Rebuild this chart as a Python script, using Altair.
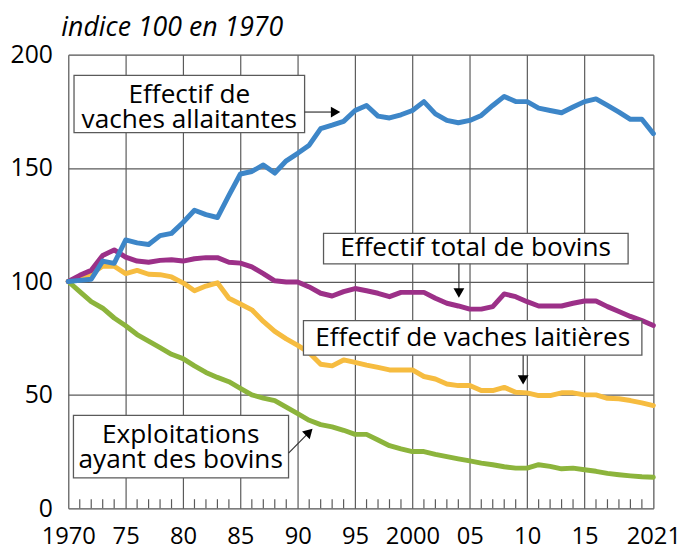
import altair as alt
import pandas as pd

years = list(range(1970, 2022))
allaitantes = [100, 100.5, 101, 109, 108, 118.3, 117, 116.3, 120.2, 121.2,
               126, 131.4, 129.5, 128.2, 138, 147.4, 148.5, 151.4, 147.8, 153.2,
               156.5, 160.1, 167.4, 168.9, 170.6, 175.4, 177.6, 172.9, 172.1, 173.5,
               175.4, 179.3, 173.9, 171.0, 170.0, 171.0, 173.2, 177.6, 181.6, 179.3,
               179.3, 176.4, 175.4, 174.4, 176.9, 179.3, 180.5, 177.6, 174.7, 171.5,
               171.5, 165.2]
total_bovins = [100, 102.7, 104.9, 111.5, 113.9, 110.7, 109.0, 108.5, 109.3, 109.6,
                109.0, 110.0, 110.5, 110.5, 108.5, 108.1, 106.4, 103.5, 100.3, 99.8,
                99.8, 97.6, 94.8, 93.6, 95.5, 96.9, 95.9, 94.8, 93.3, 95.2,
                95.2, 95.2, 92.6, 90.4, 89.2, 87.8, 87.8, 88.9, 94.5, 93.3,
                91.1, 89.2, 89.2, 89.2, 90.4, 91.4, 91.4, 88.9, 86.8, 84.6,
                82.8, 80.6]
laitieres = [100, 101.3, 103.5, 106.7, 106.7, 103.5, 104.9, 103.2, 103.0, 102.0,
             99.4, 95.9, 98.0, 99.4, 92.6, 90.1, 87.5, 82.4, 78.0, 74.7,
             71.8, 68.6, 63.5, 62.8, 65.4, 64.3, 63.1, 62.1, 61.0, 61.0,
             61.0, 58.1, 57.0, 54.8, 54.1, 54.1, 51.9, 51.9, 53.3, 51.2,
             50.9, 49.7, 49.7, 50.9, 50.9, 50.0, 50.0, 48.5, 48.3, 47.5,
             46.5, 45.3]
exploitations = [100, 95.5, 91.1, 88.2, 83.9, 80.5, 76.6, 73.7, 70.8, 67.9,
                 66.0, 62.8, 59.9, 57.7, 55.8, 52.9, 50.0, 48.6, 47.5, 44.6,
                 41.7, 38.8, 36.9, 35.9, 34.4, 32.6, 32.6, 30.1, 27.6, 26.2,
                 25.0, 25.0, 23.8, 22.8, 21.8, 20.9, 19.9, 19.2, 18.3, 17.7,
                 17.7, 19.2, 18.5, 17.4, 17.7, 17.0, 16.3, 15.4, 14.8, 14.3,
                 13.9, 13.7]

series_names = ["exploitations", "laitieres", "total", "allaitantes"]
series_values = [exploitations, laitieres, total_bovins, allaitantes]
series_colors = ["#8cb43c", "#f6bc40", "#9c3088", "#3d86c8"]

x_tick_values = [1970, 1975, 1980, 1985, 1990, 1995, 2000, 2005, 2010, 2015, 2021]
x_tick_labels = ["1970", "75", "80", "85", "90", "95", "2000", "05", "10", "15", "2021"]
y_tick_values = [0, 50, 100, 150, 200]
minor_years = [y for y in years if y not in x_tick_values]

# annotation boxes (data units)
box_x = [1970.5, 1992.25, 1990.5, 1970.45]
box_x2 = [1990.6, 2018.8, 2020.0, 1989.2]
box_y = [190.9, 121.2, 82.7, 41.0]
box_y2 = [165.6, 107.8, 67.5, 13.4]

label_lines = ["Effectif de", "vaches allaitantes", "Effectif total de bovins",
               "Effectif de vaches laitières", "Exploitations", "ayant des bovins"]
label_x = [1980.55, 1980.55, 2005.5, 2005.25, 1979.8, 1979.8]
label_y = [182.3, 171.0, 114.5, 75.1, 32.2, 21.2]

arrow_x = [1990.6, 2004.05, 2009.65, 1989.2]
arrow_x2 = [1993.0, 2004.05, 2009.65, 1990.9]
arrow_y = [174.7, 107.8, 67.5, 24.3]
arrow_y2 = [174.7, 96.0, 57.5, 33.0]
head_x = [1993.3, 2004.05, 2009.65, 1991.0]
head_y = [174.7, 94.9, 56.6, 33.6]
head_shape = ["triangle-right", "triangle-down", "triangle-down", "triangle-up"]
head_angle = [0, 0, 0, 45]

FONT = "Open Sans"
GRID = "#5a5a5a"

rows = []
for name, vals in zip(series_names, series_values):
    for yr, v in zip(years, vals):
        rows.append({"year": yr, "value": v, "series": name})
df = pd.DataFrame(rows)

label_expr = "''"
for v, l in zip(reversed(x_tick_values), reversed(x_tick_labels)):
    label_expr = f"datum.value == {v} ? '{l}' : ({label_expr})"

xscale = alt.Scale(domain=[1970, 2021], nice=False, zero=False)
yscale = alt.Scale(domain=[0, 200], nice=False)

XAX = alt.Axis(values=x_tick_values, labelExpr=label_expr, grid=True,
               gridColor=GRID, gridWidth=1.2, gridOpacity=1, domain=False,
               ticks=False, labelFontSize=24, labelFont=FONT,
               labelColor="black", labelPadding=17, labelOverlap=False,
               labelBound=False, labelFlush=False, title=None)
YAX = alt.Axis(values=y_tick_values, grid=True, gridColor=GRID,
               gridWidth=1.2, gridOpacity=1, domain=False, ticks=False,
               labelFontSize=25, labelFont=FONT, labelColor="black",
               labelPadding=16, labelOverlap=False, title=None)


def X(field):
    return alt.X(field, scale=xscale, axis=XAX)


def Y(field):
    return alt.Y(field, scale=yscale, axis=YAX)


lines = alt.Chart(df).mark_line(strokeWidth=5, strokeJoin="round", strokeCap="round").encode(
    x=X("year:Q"),
    y=Y("value:Q"),
    color=alt.Color("series:N", scale=alt.Scale(domain=series_names, range=series_colors), legend=None),
    order=alt.Order("year:Q"),
    detail="series:N",
)

minor_df = pd.DataFrame({"year": minor_years, "y0": [0] * len(minor_years), "y1": [4] * len(minor_years)})
minor = alt.Chart(minor_df).mark_rule(color=GRID, strokeWidth=1.2).encode(
    x=X("year:Q"), y=Y("y0:Q"), y2="y1:Q")

box_df = pd.DataFrame({"x": box_x, "x2": box_x2, "y": box_y, "y2": box_y2})
boxes = alt.Chart(box_df).mark_rect(fill="white", stroke=GRID, strokeWidth=1.3).encode(
    x=X("x:Q"), x2="x2:Q", y=Y("y:Q"), y2="y2:Q")

lab_df = pd.DataFrame({"x": label_x, "y": label_y, "t": label_lines})
labels = alt.Chart(lab_df).mark_text(font=FONT, fontSize=26.5, color="black",
                                     align="center", baseline="middle").encode(
    x=X("x:Q"), y=Y("y:Q"), text="t:N")

arr_df = pd.DataFrame({"x": arrow_x, "x2": arrow_x2, "y": arrow_y, "y2": arrow_y2})
arrows = alt.Chart(arr_df).mark_rule(color="#333333", strokeWidth=1.2).encode(
    x=X("x:Q"), x2="x2:Q", y=Y("y:Q"), y2="y2:Q")

head_df = pd.DataFrame({"x": head_x, "y": head_y, "shape": head_shape, "angle": head_angle})
heads = alt.Chart(head_df).mark_point(filled=True, color="black", opacity=1, size=120).encode(
    x=X("x:Q"), y=Y("y:Q"),
    shape=alt.Shape("shape:N", scale=None), angle=alt.Angle("angle:Q", scale=None))

chart = alt.layer(lines, minor, boxes, labels, arrows, heads).properties(
    width=592, height=459,
    autosize=alt.AutoSizeParams(type="none"),
    padding={"left": 61, "top": 44, "right": 30, "bottom": 40},
    title=alt.TitleParams("indice 100 en 1970", anchor="start", frame="group", font=FONT,
                          fontSize=27, fontStyle="italic", fontWeight="normal",
                          color="black", dx=-7, offset=1),
).configure_view(stroke=None).configure(background="white")

chart.save("out.html", embed_options={"renderer": "svg", "actions": False})
